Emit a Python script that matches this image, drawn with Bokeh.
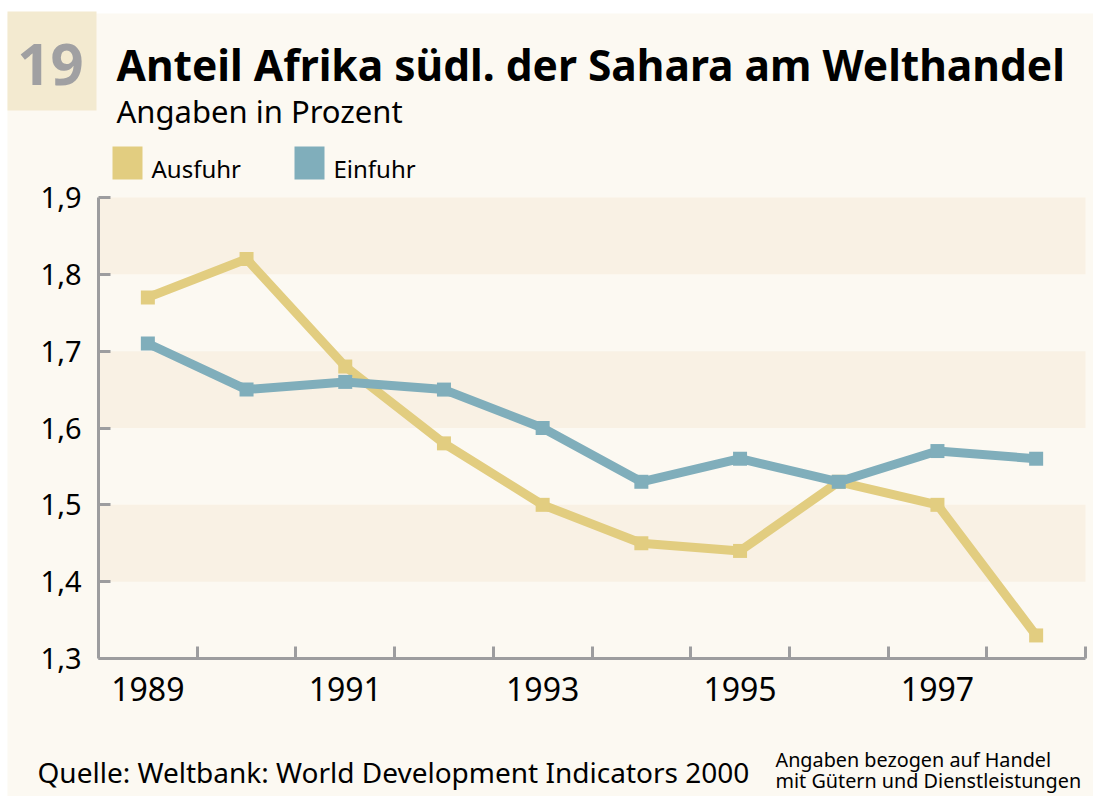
from bokeh.plotting import figure
from bokeh.models import Label, BoxAnnotation, FixedTicker, CustomJSTickFormatter, Range1d
from bokeh.embed import file_html
from bokeh.resources import INLINE

# ---- data ----
years = [1989, 1990, 1991, 1992, 1993, 1994, 1995, 1996, 1997, 1998]
ausfuhr = [1.77, 1.82, 1.68, 1.58, 1.50, 1.45, 1.44, 1.53, 1.50, 1.33]
einfuhr = [1.71, 1.65, 1.66, 1.65, 1.60, 1.53, 1.56, 1.53, 1.57, 1.56]
series_names = ["Ausfuhr", "Einfuhr"]
y_ticks = [1.3, 1.4, 1.5, 1.6, 1.7, 1.8, 1.9]
x_label_years = [1989, 1991, 1993, 1995, 1997]
x_minor_ticks = [1989.5, 1990.5, 1991.5, 1992.5, 1993.5, 1994.5, 1995.5, 1996.5, 1997.5, 1998.5]
band_bottoms = [1.4, 1.6, 1.8]
band_tops = [1.5, 1.7, 1.9]
x_lo, x_hi = 1988.5, 1998.5
y_lo, y_hi = 1.3, 1.9

title = "Anteil Afrika südl. der Sahara am Welthandel"
subtitle = "Angaben in Prozent"
number = "19"
source = "Quelle: Weltbank: World Development Indicators 2000"
note1 = "Angaben bezogen auf Handel"
note2 = "mit Gütern und Dienstleistungen"

# ---- style ----
BG = "#fcf9f2"
BAND = "#f9f1e4"
BOX = "#f3ead0"
YELLOW = "#e2cd80"
BLUE = "#80aebb"
GRAY = "#9d9d9f"
FONT = "Noto Sans"

W, H = 1093, 796
# pixel placement of the plotting area inside the canvas
PL, PR, PT, PB = 98, 1085, 197, 658
xs = (x_hi - x_lo) / (PR - PL)
ys = (y_hi - y_lo) / (PB - PT)

p = figure(width=W, height=H, output_backend="svg", toolbar_location=None,
           x_range=Range1d(x_lo - PL * xs, x_hi + (W - PR) * xs),
           y_range=Range1d(y_lo - (H - PB) * ys, y_hi + PT * ys),
           min_border=0)
p.background_fill_color = "white"
p.border_fill_color = "white"
p.outline_line_color = None
p.xgrid.visible = False
p.ygrid.visible = False


def sbox(left, right, bottom, top, color, level="annotation"):
    p.add_layout(BoxAnnotation(left=left, right=right, top=top, bottom=bottom,
                               left_units="screen", right_units="screen",
                               top_units="screen", bottom_units="screen",
                               fill_color=color, fill_alpha=1, line_alpha=0,
                               level=level))


def lab(x, y_top, text, size, bold=False, color="black", align="left"):
    """y_top: vertical centre of the text, in pixels from the top."""
    p.add_layout(Label(x=x, y=H - y_top, x_units="screen", y_units="screen", text=text,
                       text_font=FONT, text_font_size=f"{size}px",
                       text_font_style="bold" if bold else "normal",
                       text_color=color, text_align=align,
                       text_baseline="middle"))


# page background (white edge at top and left like the reference)
sbox(7, W, 0, H - 13, BG, level="underlay")

# bands
for b, t in zip(band_bottoms, band_tops):
    p.add_layout(BoxAnnotation(left=x_lo, right=x_hi, bottom=b, top=t,
                               fill_color=BAND, fill_alpha=1, line_alpha=0,
                               level="underlay"))

# axes (fixed to the data corner)
yax = p.yaxis[0]
yax.fixed_location = x_lo
yax.bounds = (y_lo, y_hi)
yax.ticker = FixedTicker(ticks=y_ticks)
yax.formatter = CustomJSTickFormatter(code="return tick.toFixed(1).replace('.', ',');")
yax.axis_line_color = GRAY
yax.axis_line_width = 3
yax.major_tick_line_color = GRAY
yax.major_tick_line_width = 3
yax.major_tick_in = 12
yax.major_tick_out = 0
yax.minor_tick_line_color = None
yax.major_label_text_font = FONT
yax.major_label_text_font_size = "29px"
yax.major_label_text_color = "black"
yax.major_label_standoff = 17

xax = p.xaxis[0]
xax.fixed_location = y_lo
xax.bounds = (x_lo, x_hi)
xax.ticker = FixedTicker(ticks=x_label_years, minor_ticks=x_minor_ticks)
xax.axis_line_color = GRAY
xax.axis_line_width = 3
xax.major_tick_line_color = None
xax.major_tick_in = 0
xax.major_tick_out = 0
xax.minor_tick_line_color = GRAY
xax.minor_tick_line_width = 3
xax.minor_tick_in = 12
xax.minor_tick_out = 0
xax.major_label_text_font = FONT
xax.major_label_text_font_size = "32px"
xax.major_label_text_color = "black"
xax.major_label_standoff = 18

# series
p.line(years, ausfuhr, line_width=9, line_color=YELLOW)
p.scatter(years, ausfuhr, marker="square", size=14, fill_color=YELLOW, line_color=None)
p.line(years, einfuhr, line_width=9, line_color=BLUE)
p.scatter(years, einfuhr, marker="square", size=14, fill_color=BLUE, line_color=None)

# header
sbox(7, 96, H - 110, H - 11, BOX)
lab(50, 64, number, 58, bold=True, color="#a0a0a2", align="center")
lab(116, 64, title, 42.5, bold=True)
lab(116, 110, subtitle, 31)

# legend
for i, (name, col) in enumerate(zip(series_names, [YELLOW, BLUE])):
    x0 = 112 + i * 182
    sbox(x0, x0 + 30, H - 179, H - 146, col)
    lab(x0 + 39, 168, name, 24)

# footer
lab(37, 771, source, 28)
lab(775, 759, note1, 19.8)
lab(775, 780, note2, 19.8)

open("out.html", "w").write(file_html(p, INLINE))
